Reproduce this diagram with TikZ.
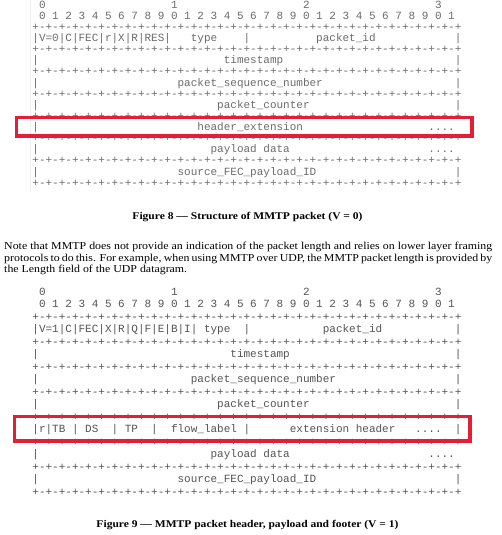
\documentclass[tikz,border=0pt]{standalone}
\usepackage{fontspec}
\setmainfont[FakeStretch=1.12]{Liberation Serif}
\setmonofont{Liberation Mono}

\definecolor{framered}{RGB}{226,30,56}
\definecolor{asciigray}{RGB}{108,108,108}
\definecolor{asciidark}{RGB}{84,84,84}

\tikzset{
  ascii/.style={font=\ttfamily\fontsize{11}{11}\selectfont, text=asciigray, inner sep=0pt, anchor=base west},
  caption/.style={font=\bfseries\fontsize{10.3}{12}\selectfont, inner sep=0pt, anchor=base},
  para/.style={font=\fontsize{10.6}{11.5}\selectfont, text width=488pt, align=justify, inner sep=0pt, anchor=north west},
  markbox/.style={draw=framered, line width=3.3pt},
}

% one row separator: 32 bit cells
\def\borderline{+-+-+-+-+-+-+-+-+-+-+-+-+-+-+-+-+-+-+-+-+-+-+-+-+-+-+-+-+-+-+-+-+}

\begin{document}
\begin{tikzpicture}[x=1pt, y=-1pt]
    % --- Canvas ---
    \useasboundingbox (0,0) rectangle (501,535);
    \fill[white] (0,0) rectangle (501,535);

    % --- Figure 8: packet with V = 0 ---
    \draw[black!6, line width=1pt] (30,0) -- (30,192);
    \begin{scope}[shift={(32.2,8.2)}, x=6.6pt, y=-11.125pt]
        % bit ruler
        \foreach \t in {0,...,3}
            \node[ascii] (f8ten\t) at ({1+20*\t},0) {\t};
        \foreach \b in {0,...,31} {
            \pgfmathtruncatemacro{\d}{mod(\b,10)}
            \node[ascii] (f8bit\b) at ({1+2*\b},1) {\d};
        }
        % separators and side bars
        \foreach \r in {2,4,...,16}
            \node[ascii] (f8sep\r) at (0,\r) {\borderline};
        \foreach \r in {5,7,...,15}
            \node[ascii] (f8left\r) at (0,\r) {|};
        \foreach \r in {3,5,7,9,15}
            \node[ascii] (f8right\r) at (64,\r) {|};
        % fields
        \node[ascii] (f8flags) at (0,3) {|V=0|C|FEC|r|X|R|RES|};
        \node[ascii] (f8type) at (24,3) {type};
        \node[ascii] (f8bar) at (32,3) {|};
        \node[ascii] (f8id) at (43,3) {packet\_id};
        \node[ascii] (f8time) at (29,5) {timestamp};
        \node[ascii] (f8seq) at (22,7) {packet\_sequence\_number};
        \node[ascii] (f8count) at (28,9) {packet\_counter};
        \node[ascii] (f8ext) at (25,11) {header\_extension};
        \node[ascii] (f8extdots) at (60,11) {....};
        \node[ascii] (f8pay) at (27,13) {payload~data};
        \node[ascii] (f8paydots) at (60,13) {....};
        \node[ascii] (f8fec) at (22,15) {source\_FEC\_payload\_ID};
    \end{scope}
    \draw[markbox] (16.7,117.5) rectangle (472,136);
    \node[caption] (cap8) at (247.5,219) {Figure 8 — Structure of MMTP packet (V = 0)};

    % --- Note ---
    \node[para] (note) at (4,242.2) {Note that MMTP does not provide an indication of the packet length and relies on lower layer framing\linebreak
        protocols to do this. For example, when using MMTP over UDP, the MMTP packet length is provided by\linebreak
        the Length field of the UDP datagram.};

    % --- Figure 9: packet with V = 1 ---
    \begin{scope}[shift={(32.2,295.2)}, x=6.6pt, y=-12.5pt, ascii/.append style={text=asciidark}]
        % bit ruler
        \foreach \t in {0,...,3}
            \node[ascii] (f9ten\t) at ({1+20*\t},0) {\t};
        \foreach \b in {0,...,31} {
            \pgfmathtruncatemacro{\d}{mod(\b,10)}
            \node[ascii] (f9bit\b) at ({1+2*\b},1) {\d};
        }
        % separators and side bars
        \foreach \r in {2,4,...,16}
            \node[ascii] (f9sep\r) at (0,\r) {\borderline};
        \foreach \r in {5,7,...,15}
            \node[ascii] (f9left\r) at (0,\r) {|};
        \foreach \r in {3,5,7,9,11,15}
            \node[ascii] (f9right\r) at (64,\r) {|};
        % fields
        \node[ascii] (f9flags) at (0,3) {|V=1|C|FEC|X|R|Q|F|E|B|I|};
        \node[ascii] (f9type) at (26,3) {type};
        \node[ascii] (f9bar) at (32,3) {|};
        \node[ascii] (f9id) at (44,3) {packet\_id};
        \node[ascii] (f9time) at (30,5) {timestamp};
        \node[ascii] (f9seq) at (24,7) {packet\_sequence\_number};
        \node[ascii] (f9count) at (28,9) {packet\_counter};
        \node[ascii] (f9r) at (1,11) {r|TB};
        \node[ascii] (f9barA) at (6,11) {|};
        \node[ascii] (f9ds) at (8,11) {DS};
        \node[ascii] (f9barB) at (12,11) {|};
        \node[ascii] (f9tp) at (14,11) {TP};
        \node[ascii] (f9barC) at (18,11) {|};
        \node[ascii] (f9flow) at (21,11) {flow\_label};
        \node[ascii] (f9barD) at (32,11) {|};
        \node[ascii] (f9ext) at (39,11) {extension~header};
        \node[ascii] (f9extdots) at (58,11) {....};
        \node[ascii] (f9pay) at (27,13) {payload~data};
        \node[ascii] (f9paydots) at (60,13) {....};
        \node[ascii] (f9fec) at (22,15) {source\_FEC\_payload\_ID};
    \end{scope}
    \draw[markbox] (14.3,416.3) rectangle (470,441);
    \node[caption] (cap9) at (247.5,527) {Figure 9 — MMTP packet header, payload and footer (V = 1)};
\end{tikzpicture}
\end{document}
